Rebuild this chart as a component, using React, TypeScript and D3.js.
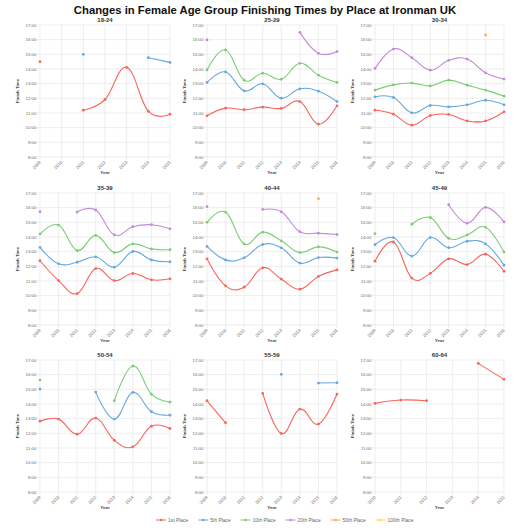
import React from 'react';
import * as d3 from 'd3';

// finish times in decimal hours, null = no finisher at that place
const places = ['1st Place', '5th Place', '10th Place', '20th Place', '50th Place', '100th Place'];
const placeColors = ['#f7665e', '#67a8df', '#7ccd76', '#c48ad7', '#ffab4c', '#f0e43c'];

const ageGroups = ['18-24', '25-29', '30-34', '35-39', '40-44', '45-49', '50-54', '55-59', '60-64'];

const yearsFull = [2009, 2010, 2011, 2012, 2013, 2014, 2015, 2016];
const years18_24 = [2009, 2010, 2011, 2012, 2013, 2014, 2015];
const years60_64 = [2010, 2011, 2012, 2013, 2014, 2015];

const first18_24 = [14.5, null, 11.19, 11.92, 14.11, 11.12, 10.92];
const fifth18_24 = [null, null, 15.0, null, null, 14.77, 14.45];

const first25_29 = [10.81, 11.33, 11.22, 11.4, 11.31, 11.78, 10.24, 11.49];
const fifth25_29 = [13.08, 13.8, 12.51, 12.99, 12.01, 12.65, 12.49, 11.78];
const tenth25_29 = [13.94, 15.3, 13.24, 13.71, 13.3, 14.39, 13.58, 13.08];
const twentieth25_29 = [15.98, null, null, null, null, 16.5, 15.07, 15.19];

const first30_34 = [11.19, 10.92, 10.17, 10.83, 10.9, 10.46, 10.46, 11.08];
const fifth30_34 = [12.1, 12.06, 11.01, 11.51, 11.42, 11.56, 11.87, 11.56];
const tenth30_34 = [12.56, 12.92, 13.04, 12.85, 13.24, 12.9, 12.56, 12.15];
const twentieth30_34 = [14.04, 15.36, 14.77, 13.92, 14.59, 14.68, 13.74, 13.31];
const fiftieth30_34 = [null, null, null, null, null, null, 16.32, null];

const first35_39 = [12.38, 11.03, 10.14, 11.85, 11.03, 11.51, 11.08, 11.15];
const fifth35_39 = [13.29, 12.17, 12.28, 12.65, 11.94, 13.01, 12.44, 12.31];
const tenth35_39 = [14.2, 14.81, 13.08, 14.11, 12.94, 13.53, 13.19, 13.13];
const twentieth35_39 = [15.72, null, 15.7, 15.84, 14.15, 14.7, 14.84, 14.56];

const first40_44 = [12.51, 10.67, 10.58, 11.9, 11.13, 10.44, 11.31, 11.76];
const fifth40_44 = [13.36, 12.44, 12.58, 13.49, 13.26, 12.22, 12.6, 12.56];
const tenth40_44 = [15.0, 15.7, 13.53, 14.33, 13.74, 12.94, 13.33, 12.97];
const twentieth40_44 = [16.07, null, null, 15.88, 15.72, 14.36, 14.26, 14.17];
const fiftieth40_44 = [null, null, null, null, null, null, 16.61, null];

const first45_49 = [12.35, 13.66, 11.2, 11.52, 12.51, 12.12, 12.83, 11.66];
const fifth45_49 = [13.48, 13.96, 12.7, 13.96, 13.27, 13.71, 13.53, 12.08];
const tenth45_49 = [14.23, null, 14.87, 15.33, 13.91, 14.14, 14.66, 12.97];
const twentieth45_49 = [null, null, null, null, 16.2, 14.94, 16.02, 15.03];

const first50_54 = [12.83, 12.97, 11.94, 13.04, 11.53, 11.08, 12.49, 12.33];
const fifth50_54 = [15.02, null, null, 14.81, 12.97, 14.79, 13.47, 13.24];
const tenth50_54 = [15.63, null, null, null, 14.22, 16.59, 14.67, 14.13];

const first55_59 = [14.22, 12.72, null, 14.72, 11.99, 13.65, 12.63, 14.68];
const fifth55_59 = [null, null, null, null, 16.02, null, 15.43, 15.45];

const first60_64 = [14.04, 14.27, 14.22, null, 16.77, 15.68];

const yTicks = [8, 9, 10, 11, 12, 13, 14, 15, 16, 17];

type Series = (number | null)[];
interface Panel {
  title: string;
  years: number[];
  series: (Series | null)[];
}

const panels: Panel[] = [
  { title: ageGroups[0], years: years18_24, series: [first18_24, fifth18_24] },
  { title: ageGroups[1], years: yearsFull, series: [first25_29, fifth25_29, tenth25_29, twentieth25_29] },
  { title: ageGroups[2], years: yearsFull, series: [first30_34, fifth30_34, tenth30_34, twentieth30_34, fiftieth30_34] },
  { title: ageGroups[3], years: yearsFull, series: [first35_39, fifth35_39, tenth35_39, twentieth35_39] },
  { title: ageGroups[4], years: yearsFull, series: [first40_44, fifth40_44, tenth40_44, twentieth40_44, fiftieth40_44] },
  { title: ageGroups[5], years: yearsFull, series: [first45_49, fifth45_49, tenth45_49, twentieth45_49] },
  { title: ageGroups[6], years: yearsFull, series: [first50_54, fifth50_54, tenth50_54] },
  { title: ageGroups[7], years: yearsFull, series: [first55_59, fifth55_59] },
  { title: ageGroups[8], years: years60_64, series: [first60_64] },
];

const colX = [[40, 170], [207, 337], [375, 504]];
const rowY = [[25, 157], [193, 325], [360, 492]];
const font = '"Liberation Sans", Arial, sans-serif';

const ChartPanel: React.FC<{ panel: Panel; index: number }> = ({ panel, index }) => {
  const [x0, x1] = colX[index % 3];
  const [y0, y1] = rowY[Math.floor(index / 3)];
  const x = d3.scalePoint<number>().domain(panel.years).range([x0, x1]);
  const y = d3.scaleLinear().domain([8, 17]).range([y1, y0]);
  const line = d3
    .line<number | null>()
    .defined((d) => d != null)
    .x((_, i) => x(panel.years[i]) as number)
    .y((d) => y(d as number))
    .curve(d3.curveCardinal.tension(-0.2));

  return (
    <g>
      {yTicks.map((t) => (
        <g key={'y' + t}>
          <line x1={x0 - 3} x2={x1} y1={y(t)} y2={y(t)} stroke="#e2e2e2" strokeWidth={0.6} />
          <text x={x0 - 3.5} y={y(t)} dy="0.35em" textAnchor="end" fontSize={4.4} fill="#6a6a6a">
            {t}:00
          </text>
        </g>
      ))}
      {panel.years.map((yr) => (
        <g key={'x' + yr}>
          <line x1={x(yr)} x2={x(yr)} y1={y0} y2={y1 + 3} stroke="#e2e2e2" strokeWidth={0.6} />
          <text
            transform={`translate(${x(yr)},${y1 + 4.5}) rotate(-45)`}
            textAnchor="end"
            dy="0.35em"
            fontSize={4.4}
            fill="#6a6a6a"
          >
            {yr}
          </text>
        </g>
      ))}
      <text x={(x0 + x1) / 2} y={y0 - 3} textAnchor="middle" fontSize={6} fontWeight="bold" fill="#333">
        {panel.title}
      </text>
      <text
        transform={`translate(${x0 - 21},${(y0 + y1) / 2}) rotate(-90)`}
        textAnchor="middle"
        fontSize={4.4}
        fontWeight="bold"
        fill="#444"
      >
        Finish Time
      </text>
      <text x={(x0 + x1) / 2} y={y1 + 17} textAnchor="middle" fontSize={4.4} fontWeight="bold" fill="#444">
        Year
      </text>
      {panel.series.map((s, si) =>
        s ? (
          <g key={'s' + si}>
            <path d={line(s) || ''} fill="none" stroke={placeColors[si]} strokeWidth={1.1} />
            {s.map((v, i) =>
              v == null ? null : (
                <circle key={i} cx={x(panel.years[i])} cy={y(v)} r={1.4} fill={placeColors[si]} />
              )
            )}
          </g>
        ) : null
      )}
    </g>
  );
};

const App: React.FC = () => {
  let lx = 156;
  const legendItems = places.map((p, i) => {
    const item = { label: p, color: placeColors[i], x: lx };
    lx += 12 + p.length * 2.7 + 6;
    return item;
  });

  return (
    <svg
      width={530}
      height={530}
      style={{ position: 'absolute', left: 0, top: 0, background: '#fff', fontFamily: font }}
    >
      <text x={265} y={14} textAnchor="middle" fontSize={11.3} fontWeight="bold" fill="#111">
        Changes in Female Age Group Finishing Times by Place at Ironman UK
      </text>
      {panels.map((p, i) => (
        <ChartPanel key={p.title} panel={p} index={i} />
      ))}
      {legendItems.map((it) => (
        <g key={it.label}>
          <line x1={it.x} x2={it.x + 10} y1={520} y2={520} stroke={it.color} strokeWidth={1} />
          <circle cx={it.x + 5} cy={520} r={1.3} fill={it.color} />
          <text x={it.x + 12} y={520} dy="0.35em" fontSize={4.9} fill="#666">
            {it.label}
          </text>
        </g>
      ))}
    </svg>
  );
};

export default App;
